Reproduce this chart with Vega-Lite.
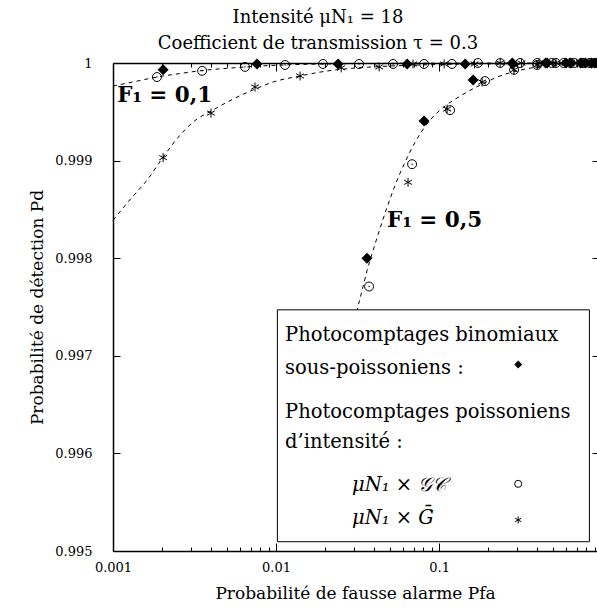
{
  "$schema": "https://vega.github.io/schema/vega-lite/v6.json",
  "width": 484,
  "height": 488,
  "autosize": {"type": "none"},
  "padding": {"left": 113, "top": 63, "right": 0, "bottom": 57},
  "background": "white",
  "config": {
    "view": {"stroke": null},
    "font": "DejaVu Serif",
    "axis": {"grid": false, "domainColor": "black", "domainWidth": 1.5, "tickColor": "black", "tickWidth": 1, "labelColor": "black", "labelFont": "DejaVu Serif", "labelFontSize": 13, "titleFont": "DejaVu Serif", "titleFontSize": 17, "titleFontWeight": "normal", "titleColor": "black", "labelOverlap": false, "labelFlush": false, "labelBound": false}
  },
  "title": {"text": ["Intensité μN₁ = 18", "Coefficient de transmission τ = 0.3"], "font": "DejaVu Serif", "fontSize": 18, "fontWeight": "normal", "lineHeight": 26, "anchor": "middle", "dx": -37, "offset": 4, "color": "black"},
  "datasets": {
    "points": [
      {"pfa": 0.00203, "pd": 0.99993, "F1": "0,1", "type": "binomial"},
      {"pfa": 0.00764, "pd": 0.99999, "F1": "0,1", "type": "binomial"},
      {"pfa": 0.024, "pd": 0.99999, "F1": "0,1", "type": "binomial"},
      {"pfa": 0.0637, "pd": 0.99999, "F1": "0,1", "type": "binomial"},
      {"pfa": 0.1445, "pd": 0.99999, "F1": "0,1", "type": "binomial"},
      {"pfa": 0.281, "pd": 1.0, "F1": "0,1", "type": "binomial"},
      {"pfa": 0.46, "pd": 1.0, "F1": "0,1", "type": "binomial"},
      {"pfa": 0.64, "pd": 1.0, "F1": "0,1", "type": "binomial"},
      {"pfa": 0.79, "pd": 1.0, "F1": "0,1", "type": "binomial"},
      {"pfa": 0.9, "pd": 1.0, "F1": "0,1", "type": "binomial"},
      {"pfa": 0.0361, "pd": 0.998, "F1": "0,5", "type": "binomial"},
      {"pfa": 0.0809, "pd": 0.999405, "F1": "0,5", "type": "binomial"},
      {"pfa": 0.1617, "pd": 0.999825, "F1": "0,5", "type": "binomial"},
      {"pfa": 0.283, "pd": 0.99999, "F1": "0,5", "type": "binomial"},
      {"pfa": 0.45, "pd": 1.0, "F1": "0,5", "type": "binomial"},
      {"pfa": 0.6, "pd": 1.0, "F1": "0,5", "type": "binomial"},
      {"pfa": 0.74, "pd": 1.0, "F1": "0,5", "type": "binomial"},
      {"pfa": 0.86, "pd": 1.0, "F1": "0,5", "type": "binomial"},
      {"pfa": 0.00186, "pd": 0.999856, "F1": "0,1", "type": "gc"},
      {"pfa": 0.00352, "pd": 0.99992, "F1": "0,1", "type": "gc"},
      {"pfa": 0.00645, "pd": 0.99996, "F1": "0,1", "type": "gc"},
      {"pfa": 0.01136, "pd": 0.99998, "F1": "0,1", "type": "gc"},
      {"pfa": 0.0194, "pd": 0.99999, "F1": "0,1", "type": "gc"},
      {"pfa": 0.0323, "pd": 0.99999, "F1": "0,1", "type": "gc"},
      {"pfa": 0.0522, "pd": 0.99999, "F1": "0,1", "type": "gc"},
      {"pfa": 0.0809, "pd": 0.99999, "F1": "0,1", "type": "gc"},
      {"pfa": 0.12, "pd": 0.99999, "F1": "0,1", "type": "gc"},
      {"pfa": 0.173, "pd": 1.0, "F1": "0,1", "type": "gc"},
      {"pfa": 0.237, "pd": 1.0, "F1": "0,1", "type": "gc"},
      {"pfa": 0.314, "pd": 1.0, "F1": "0,1", "type": "gc"},
      {"pfa": 0.4, "pd": 1.0, "F1": "0,1", "type": "gc"},
      {"pfa": 0.49, "pd": 1.0, "F1": "0,1", "type": "gc"},
      {"pfa": 0.58, "pd": 1.0, "F1": "0,1", "type": "gc"},
      {"pfa": 0.67, "pd": 1.0, "F1": "0,1", "type": "gc"},
      {"pfa": 0.76, "pd": 1.0, "F1": "0,1", "type": "gc"},
      {"pfa": 0.84, "pd": 1.0, "F1": "0,1", "type": "gc"},
      {"pfa": 0.91, "pd": 1.0, "F1": "0,1", "type": "gc"},
      {"pfa": 0.0372, "pd": 0.99771, "F1": "0,5", "type": "gc"},
      {"pfa": 0.0683, "pd": 0.998963, "F1": "0,5", "type": "gc"},
      {"pfa": 0.1167, "pd": 0.999517, "F1": "0,5", "type": "gc"},
      {"pfa": 0.1914, "pd": 0.999815, "F1": "0,5", "type": "gc"},
      {"pfa": 0.2884, "pd": 0.99993, "F1": "0,5", "type": "gc"},
      {"pfa": 0.4, "pd": 0.99998, "F1": "0,5", "type": "gc"},
      {"pfa": 0.52, "pd": 1.0, "F1": "0,5", "type": "gc"},
      {"pfa": 0.64, "pd": 1.0, "F1": "0,5", "type": "gc"},
      {"pfa": 0.75, "pd": 1.0, "F1": "0,5", "type": "gc"},
      {"pfa": 0.85, "pd": 1.0, "F1": "0,5", "type": "gc"},
      {"pfa": 0.92, "pd": 1.0, "F1": "0,5", "type": "gc"},
      {"pfa": 0.00203, "pd": 0.99903, "F1": "0,1", "type": "gbar"},
      {"pfa": 0.00399, "pd": 0.999487, "F1": "0,1", "type": "gbar"},
      {"pfa": 0.00743, "pd": 0.999754, "F1": "0,1", "type": "gbar"},
      {"pfa": 0.01404, "pd": 0.999867, "F1": "0,1", "type": "gbar"},
      {"pfa": 0.0251, "pd": 0.99995, "F1": "0,1", "type": "gbar"},
      {"pfa": 0.0429, "pd": 0.99996, "F1": "0,1", "type": "gbar"},
      {"pfa": 0.0692, "pd": 0.99999, "F1": "0,1", "type": "gbar"},
      {"pfa": 0.1074, "pd": 0.99999, "F1": "0,1", "type": "gbar"},
      {"pfa": 0.165, "pd": 0.99999, "F1": "0,1", "type": "gbar"},
      {"pfa": 0.237, "pd": 1.0, "F1": "0,1", "type": "gbar"},
      {"pfa": 0.32, "pd": 1.0, "F1": "0,1", "type": "gbar"},
      {"pfa": 0.41, "pd": 1.0, "F1": "0,1", "type": "gbar"},
      {"pfa": 0.5, "pd": 1.0, "F1": "0,1", "type": "gbar"},
      {"pfa": 0.6, "pd": 1.0, "F1": "0,1", "type": "gbar"},
      {"pfa": 0.7, "pd": 1.0, "F1": "0,1", "type": "gbar"},
      {"pfa": 0.79, "pd": 1.0, "F1": "0,1", "type": "gbar"},
      {"pfa": 0.87, "pd": 1.0, "F1": "0,1", "type": "gbar"},
      {"pfa": 0.0645, "pd": 0.998778, "F1": "0,5", "type": "gbar"},
      {"pfa": 0.112, "pd": 0.999528, "F1": "0,5", "type": "gbar"},
      {"pfa": 0.1836, "pd": 0.999805, "F1": "0,5", "type": "gbar"},
      {"pfa": 0.288, "pd": 0.99993, "F1": "0,5", "type": "gbar"},
      {"pfa": 0.4, "pd": 0.99998, "F1": "0,5", "type": "gbar"},
      {"pfa": 0.52, "pd": 1.0, "F1": "0,5", "type": "gbar"},
      {"pfa": 0.64, "pd": 1.0, "F1": "0,5", "type": "gbar"},
      {"pfa": 0.75, "pd": 1.0, "F1": "0,5", "type": "gbar"},
      {"pfa": 0.85, "pd": 1.0, "F1": "0,5", "type": "gbar"},
      {"pfa": 0.92, "pd": 1.0, "F1": "0,5", "type": "gbar"}
    ],
    "curves": [
      {"curve": "A", "pfa": 0.001, "pd": 0.999764},
      {"curve": "A", "pfa": 0.001365, "pd": 0.99981},
      {"curve": "A", "pfa": 0.00186, "pd": 0.999856},
      {"curve": "A", "pfa": 0.002576, "pd": 0.999892},
      {"curve": "A", "pfa": 0.00352, "pd": 0.999923},
      {"curve": "A", "pfa": 0.00486, "pd": 0.999944},
      {"curve": "A", "pfa": 0.00645, "pd": 0.999959},
      {"curve": "A", "pfa": 0.00918, "pd": 0.999974},
      {"curve": "A", "pfa": 0.01404, "pd": 0.999985},
      {"curve": "A", "pfa": 0.02844, "pd": 0.999993},
      {"curve": "A", "pfa": 0.0766, "pd": 0.999998},
      {"curve": "A", "pfa": 0.93, "pd": 1.0},
      {"curve": "B", "pfa": 0.001, "pd": 0.998388},
      {"curve": "B", "pfa": 0.001308, "pd": 0.998624},
      {"curve": "B", "pfa": 0.001617, "pd": 0.998799},
      {"curve": "B", "pfa": 0.00203, "pd": 0.999035},
      {"curve": "B", "pfa": 0.002576, "pd": 0.999261},
      {"curve": "B", "pfa": 0.003273, "pd": 0.999425},
      {"curve": "B", "pfa": 0.00399, "pd": 0.999507},
      {"curve": "B", "pfa": 0.005445, "pd": 0.99963},
      {"curve": "B", "pfa": 0.00743, "pd": 0.999733},
      {"curve": "B", "pfa": 0.0096, "pd": 0.999805},
      {"curve": "B", "pfa": 0.01404, "pd": 0.999867},
      {"curve": "B", "pfa": 0.02056, "pd": 0.999918},
      {"curve": "B", "pfa": 0.02844, "pd": 0.999944},
      {"curve": "B", "pfa": 0.04345, "pd": 0.999964},
      {"curve": "B", "pfa": 0.1014, "pd": 0.999985},
      {"curve": "B", "pfa": 0.2366, "pd": 0.999992},
      {"curve": "B", "pfa": 0.93, "pd": 0.999998},
      {"curve": "C", "pfa": 0.02923, "pd": 0.997207},
      {"curve": "C", "pfa": 0.0314, "pd": 0.997464},
      {"curve": "C", "pfa": 0.0337, "pd": 0.997669},
      {"curve": "C", "pfa": 0.03617, "pd": 0.997875},
      {"curve": "C", "pfa": 0.03937, "pd": 0.99808},
      {"curve": "C", "pfa": 0.04345, "pd": 0.998306},
      {"curve": "C", "pfa": 0.04797, "pd": 0.998522},
      {"curve": "C", "pfa": 0.0537, "pd": 0.998747},
      {"curve": "C", "pfa": 0.0618, "pd": 0.998984},
      {"curve": "C", "pfa": 0.0713, "pd": 0.999189},
      {"curve": "C", "pfa": 0.0881, "pd": 0.999415},
      {"curve": "C", "pfa": 0.1089, "pd": 0.999559},
      {"curve": "C", "pfa": 0.1346, "pd": 0.999661},
      {"curve": "C", "pfa": 0.1787, "pd": 0.999774},
      {"curve": "C", "pfa": 0.2366, "pd": 0.999867},
      {"curve": "C", "pfa": 0.3373, "pd": 0.999938},
      {"curve": "C", "pfa": 0.552, "pd": 0.99998},
      {"curve": "C", "pfa": 0.93, "pd": 0.999995}
    ]
  },
  "layer": [
    {
      "data": {"name": "curves"},
      "mark": {"type": "line", "strokeDash": [4, 4], "strokeWidth": 1, "color": "black", "interpolate": "monotone"},
      "encoding": {
        "x": {"field": "pfa", "type": "quantitative", "scale": {"type": "log", "domain": [0.001, 0.93], "nice": false},
          "axis": {"orient": "bottom", "values": [0.001,0.002,0.003,0.004,0.005,0.006,0.007,0.008,0.009,0.01,0.02,0.03,0.04,0.05,0.06,0.07,0.08,0.09,0.1,0.2,0.3,0.4,0.5,0.6,0.7,0.8,0.9],
            "labelExpr": "datum.value == 0.001 ? '0.001' : datum.value == 0.01 ? '0.01' : datum.value == 0.1 ? '0.1' : ''",
            "tickSize": {"condition": {"test": "indexof([0.001, 0.01, 0.1], datum.value) >= 0", "value": -8}, "value": -4},
            "labelPadding": 18, "title": "Probabilité de fausse alarme Pfa", "titlePadding": 7}},
        "y": {"field": "pd", "type": "quantitative", "scale": {"domain": [0.995, 1], "nice": false, "zero": false},
          "axis": {"orient": "left", "values": [0.995, 0.996, 0.997, 0.998, 0.999, 1],
            "labelExpr": "datum.value == 1 ? '1' : format(datum.value, '.3f')",
            "tickSize": -7, "labelPadding": 28, "title": "Probabilité de détection Pd", "titlePadding": 8}},
        "detail": {"field": "curve"}
      }
    },
    {
      "data": {"name": "points"},
      "transform": [{"filter": "datum.type == 'binomial'"}],
      "mark": {"type": "point", "shape": "diamond", "filled": true, "color": "black", "size": 121, "opacity": 1},
      "encoding": {
        "x": {"field": "pfa", "type": "quantitative",
          "axis": {"orient": "top", "values": [0.001,0.002,0.003,0.004,0.005,0.006,0.007,0.008,0.009,0.01,0.02,0.03,0.04,0.05,0.06,0.07,0.08,0.09,0.1,0.2,0.3,0.4,0.5,0.6,0.7,0.8,0.9],
            "labels": false, "title": null,
            "tickSize": {"condition": {"test": "indexof([0.001, 0.01, 0.1], datum.value) >= 0", "value": -8}, "value": -4}}},
        "y": {"field": "pd", "type": "quantitative",
          "axis": {"orient": "right", "values": [0.996, 0.997, 0.998, 0.999], "labels": false, "domain": false, "title": null, "tickSize": -5}}
      }
    },
    {
      "data": {"name": "points"},
      "transform": [{"filter": "datum.type == 'gc'"}],
      "mark": {"type": "point", "shape": "circle", "filled": false, "color": "black", "size": 80, "strokeWidth": 1, "opacity": 1},
      "encoding": {
        "x": {"field": "pfa", "type": "quantitative", "axis": null},
        "y": {"field": "pd", "type": "quantitative", "axis": null}
      }
    },
    {
      "data": {"name": "points"},
      "transform": [{"filter": "datum.type == 'gc'"}],
      "mark": {"type": "point", "shape": "circle", "filled": true, "color": "black", "size": 2, "opacity": 1},
      "encoding": {
        "x": {"field": "pfa", "type": "quantitative", "axis": null},
        "y": {"field": "pd", "type": "quantitative", "axis": null}
      }
    },
    {
      "data": {"name": "points"},
      "transform": [{"filter": "datum.type == 'gbar'"}],
      "mark": {"type": "point", "shape": "M0,-1L0,1M-0.87,-0.5L0.87,0.5M-0.87,0.5L0.87,-0.5", "filled": false, "color": "black", "size": 81, "strokeWidth": 1, "opacity": 1},
      "encoding": {
        "x": {"field": "pfa", "type": "quantitative", "axis": null},
        "y": {"field": "pd", "type": "quantitative", "axis": null}
      }
    },
    {
      "data": {"values": [{}]},
      "layer": [
        {
          "mark": {"type": "text", "text": "F₁ = 0,1", "font": "DejaVu Serif", "fontSize": 21.5, "fontWeight": "bold", "align": "left", "baseline": "middle", "color": "black"},
          "encoding": {
            "x": {"datum": 0.00106, "type": "quantitative", "axis": null},
            "y": {"datum": 0.99966, "type": "quantitative", "axis": null}
          }
        },
        {
          "mark": {"type": "text", "text": "F₁ = 0,5", "font": "DejaVu Serif", "fontSize": 21.5, "fontWeight": "bold", "align": "left", "baseline": "middle", "color": "black"},
          "encoding": {
            "x": {"datum": 0.048, "type": "quantitative", "axis": null},
            "y": {"datum": 0.998378, "type": "quantitative", "axis": null}
          }
        },
        {
          "mark": {"type": "rect", "fill": "white", "stroke": "black", "strokeWidth": 1},
          "encoding": {
            "x": {"datum": 0.01019, "type": "quantitative", "axis": null},
            "x2": {"datum": 0.8356},
            "y": {"datum": 0.997471, "type": "quantitative", "axis": null},
            "y2": {"datum": 0.995095}
          }
        },
        {
          "mark": {"type": "text", "text": "Photocomptages binomiaux", "font": "DejaVu Serif", "fontSize": 19.5, "align": "left", "baseline": "alphabetic", "color": "black"},
          "encoding": {"x": {"datum": 0.01135, "type": "quantitative", "axis": null}, "y": {"datum": 0.997156, "type": "quantitative", "axis": null}}
        },
        {
          "mark": {"type": "text", "text": "sous-poissoniens :", "font": "DejaVu Serif", "fontSize": 19.5, "align": "left", "baseline": "alphabetic", "color": "black"},
          "encoding": {"x": {"datum": 0.01135, "type": "quantitative", "axis": null}, "y": {"datum": 0.996817, "type": "quantitative", "axis": null}}
        },
        {
          "mark": {"type": "text", "text": "Photocomptages poissoniens", "font": "DejaVu Serif", "fontSize": 19.5, "align": "left", "baseline": "alphabetic", "color": "black"},
          "encoding": {"x": {"datum": 0.01135, "type": "quantitative", "axis": null}, "y": {"datum": 0.996365, "type": "quantitative", "axis": null}}
        },
        {
          "mark": {"type": "text", "text": "d’intensité :", "font": "DejaVu Serif", "fontSize": 19.5, "align": "left", "baseline": "alphabetic", "color": "black"},
          "encoding": {"x": {"datum": 0.01135, "type": "quantitative", "axis": null}, "y": {"datum": 0.996057, "type": "quantitative", "axis": null}}
        },
        {
          "mark": {"type": "text", "text": "μN₁ × 𝒢𝒞", "font": "DejaVu Serif", "fontSize": 19.5, "fontStyle": "italic", "align": "left", "baseline": "alphabetic", "color": "black"},
          "encoding": {"x": {"datum": 0.02923, "type": "quantitative", "axis": null}, "y": {"datum": 0.995616, "type": "quantitative", "axis": null}}
        },
        {
          "mark": {"type": "text", "text": "μN₁ × Ḡ", "font": "DejaVu Serif", "fontSize": 19.5, "fontStyle": "italic", "align": "left", "baseline": "alphabetic", "color": "black"},
          "encoding": {"x": {"datum": 0.02923, "type": "quantitative", "axis": null}, "y": {"datum": 0.995277, "type": "quantitative", "axis": null}}
        },
        {
          "mark": {"type": "point", "shape": "diamond", "filled": true, "color": "black", "size": 64, "opacity": 1},
          "encoding": {"x": {"datum": 0.3055, "type": "quantitative", "axis": null}, "y": {"datum": 0.99691, "type": "quantitative", "axis": null}}
        },
        {
          "mark": {"type": "point", "shape": "circle", "filled": false, "color": "black", "size": 50, "strokeWidth": 1, "opacity": 1},
          "encoding": {"x": {"datum": 0.3055, "type": "quantitative", "axis": null}, "y": {"datum": 0.995688, "type": "quantitative", "axis": null}}
        },
        {
          "mark": {"type": "point", "shape": "M0,-1L0,1M-0.87,-0.5L0.87,0.5M-0.87,0.5L0.87,-0.5", "filled": false, "color": "black", "size": 49, "strokeWidth": 1, "opacity": 1},
          "encoding": {"x": {"datum": 0.3055, "type": "quantitative", "axis": null}, "y": {"datum": 0.995318, "type": "quantitative", "axis": null}}
        }
      ]
    }
  ],
  "resolve": {"axis": {"x": "independent", "y": "independent"}}
}
